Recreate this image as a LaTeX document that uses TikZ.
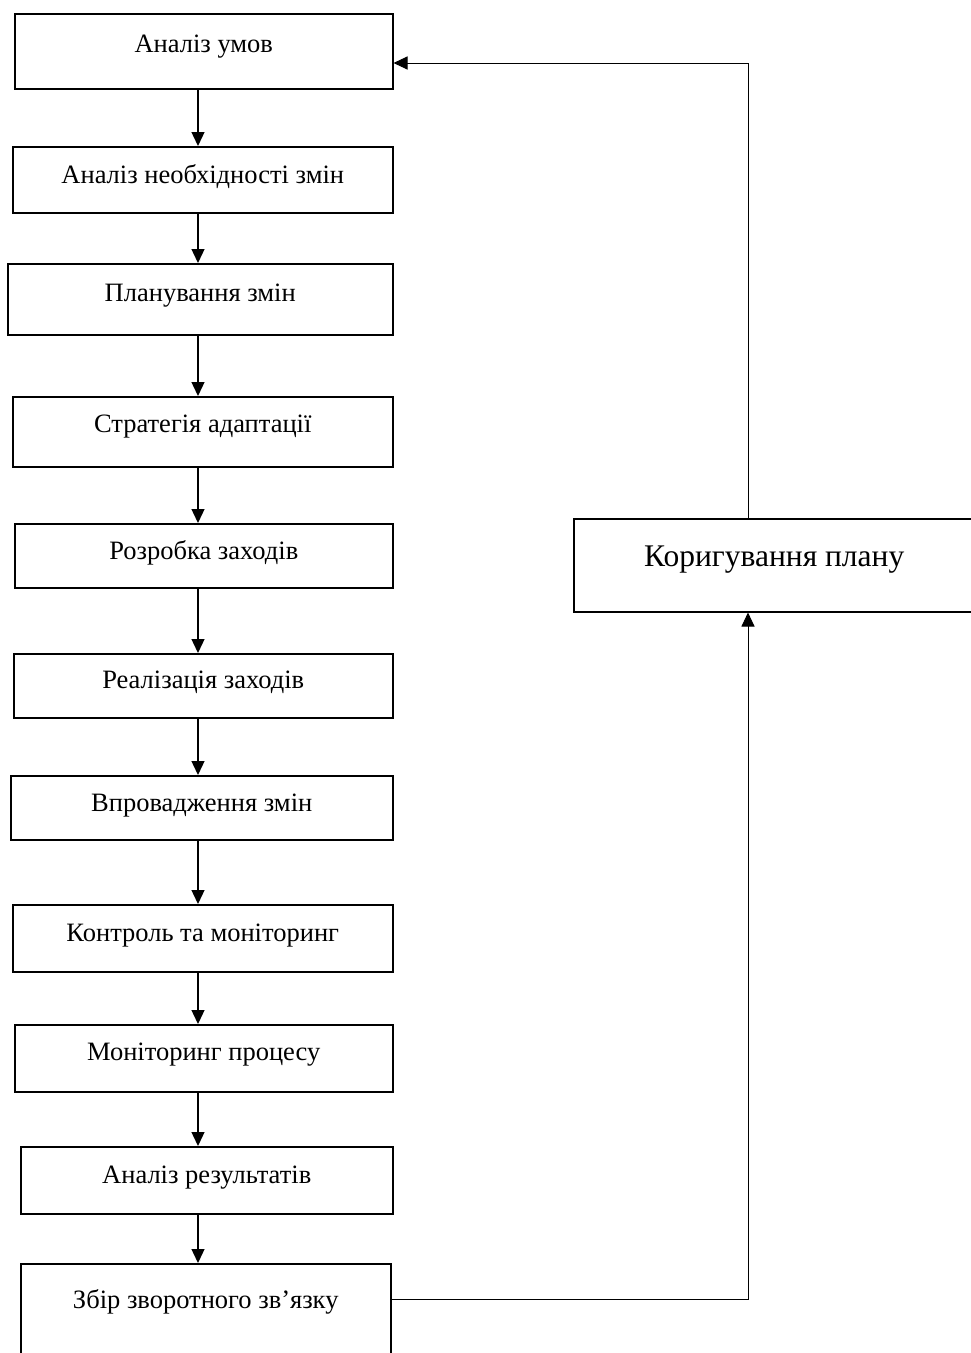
\documentclass[tikz,border=0pt]{standalone}
\usepackage{fontspec}
\setmainfont{Liberation Serif}
\usetikzlibrary{arrows.meta}

\tikzset{
  stage/.style={rectangle, draw, line width=1.5pt, anchor=north west, inner xsep=0pt, inner ysep=0pt, align=center, font=\fontsize{26.5}{32}\selectfont},
  flow/.style={line width=1.3pt, -{Triangle[length=14pt, width=13pt]}},
  back/.style={line width=1pt, -{Triangle[length=14pt, width=13pt]}}
}

\begin{document}
\begin{tikzpicture}[x=1pt, y=-1pt]
        \clip (0,0) rectangle (971,1353);

        % Stages
        \node[stage, minimum width=378pt, text height=39pt, text depth=36pt] (b1) at (14,13) {Аналіз умов};
        \node[stage, minimum width=380pt, text height=37pt, text depth=29pt] (b2) at (12,146) {Аналіз необхідності змін};
        \node[stage, minimum width=385pt, text height=38pt, text depth=33pt] (b3) at (7,263) {Планування змін};
        \node[stage, minimum width=380pt, text height=36pt, text depth=34pt] (b4) at (12,396) {Стратегія адаптації};
        \node[stage, minimum width=378pt, text height=36pt, text depth=28pt] (b5) at (14,523) {Розробка заходів};
        \node[stage, minimum width=379pt, text height=35pt, text depth=29pt] (b6) at (13,653) {Реалізація заходів};
        \node[stage, minimum width=382pt, text height=36pt, text depth=28pt] (b7) at (10,775) {Впровадження змін};
        \node[stage, minimum width=380pt, text height=37pt, text depth=30pt] (b8) at (12,904) {Контроль та моніторинг};
        \node[stage, minimum width=378pt, text height=36pt, text depth=31pt] (b9) at (14,1024) {Моніторинг процесу};
        \node[stage, minimum width=372pt, text height=37pt, text depth=30pt] (b10) at (20,1146) {Аналіз результатів};
        \node[stage, minimum width=370pt, text height=45pt, text depth=55pt] (b11) at (20,1263) {Збір зворотного зв’язку};
        \node[stage, minimum width=401pt, text height=48pt, text depth=45pt, font=\fontsize{31.5}{38}\selectfont] (fix) at (573,518) {Коригування плану};

        % Helper points
        \coordinate (axis) at (198,0);
        \coordinate (low) at (748,1299);
        \coordinate (high) at (748,63);

        % Main chain
        \draw[flow] (b1.south -| axis) -- (b2.north -| axis);
        \draw[flow] (b2.south -| axis) -- (b3.north -| axis);
        \draw[flow] (b3.south -| axis) -- (b4.north -| axis);
        \draw[flow] (b4.south -| axis) -- (b5.north -| axis);
        \draw[flow] (b5.south -| axis) -- (b6.north -| axis);
        \draw[flow] (b6.south -| axis) -- (b7.north -| axis);
        \draw[flow] (b7.south -| axis) -- (b8.north -| axis);
        \draw[flow] (b8.south -| axis) -- (b9.north -| axis);
        \draw[flow] (b9.south -| axis) -- (b10.north -| axis);
        \draw[flow] (b10.south -| axis) -- (b11.north -| axis);

        % Feedback loop
        \draw[back] (b11.east |- low) -- (low) -- (fix.south -| low);
        \draw[back] (fix.north -| high) -- (high) -- (b1.east |- high);
    \end{tikzpicture}
\end{document}
